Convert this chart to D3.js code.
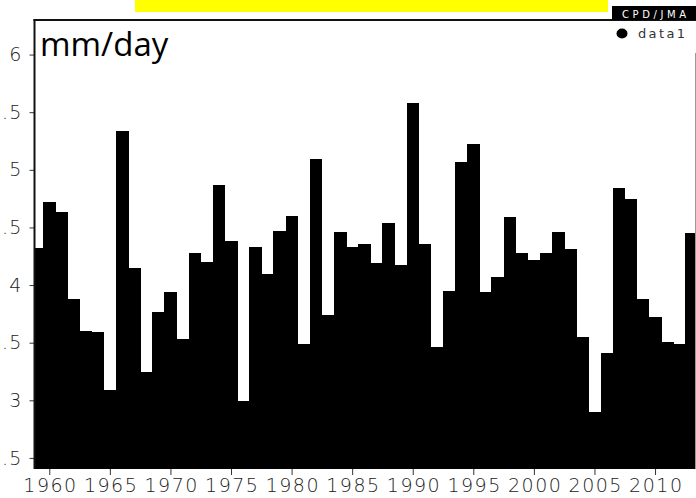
<!DOCTYPE html>
<html>
<head>
<meta charset="utf-8">
<script src="https://cdn.jsdelivr.net/npm/d3@7"></script>
<style>
  html, body { margin: 0; padding: 0; background: #fff; overflow: hidden; }
  svg { display: block; }
</style>
</head>
<body>
<script>
// Annual precipitation, one bar per year (mm/day)
const years = d3.range(1959, 2014);
const values = [
  4.32, 4.72, 4.63, 3.88, 3.60, 3.59, 3.09, 5.34, 4.15, 3.25,
  3.77, 3.94, 3.53, 4.28, 4.20, 4.87, 4.38, 2.99, 4.33, 4.10,
  4.47, 4.60, 3.49, 5.09, 3.74, 4.46, 4.33, 4.36, 4.19, 4.54,
  4.17, 5.58, 4.36, 3.46, 3.95, 5.07, 5.22, 3.94, 4.07, 4.59,
  4.28, 4.22, 4.28, 4.46, 4.31, 3.55, 2.90, 3.41, 4.84, 4.75,
  3.88, 3.72, 3.51, 3.49, 4.45
];
const yTicks = [2.5, 3, 3.5, 4, 4.5, 5, 5.5, 6];
const xTicks = [1960, 1965, 1970, 1975, 1980, 1985, 1990, 1995, 2000, 2005, 2010];
const seriesName = "data1";
const unitLabel = "mm/day";
const sourceLabel = "CPD/JMA";

const W = 696, H = 498;
const plot = { left: 34.5, right: 695.5, top: 20, bottom: 469 };

const svg = d3.select("body").append("svg")
  .attr("width", W).attr("height", H);

const x = d3.scaleLinear().domain([1958.78, 2013.34]).range([plot.left, plot.right]);
const y = d3.scaleLinear().domain([2.404, 6.3]).range([plot.bottom, plot.top]);

svg.append("defs").append("clipPath").attr("id", "plotClip")
  .append("rect")
  .attr("x", plot.left).attr("y", plot.top)
  .attr("width", plot.right - plot.left).attr("height", plot.bottom - plot.top);

// bars
svg.append("g").attr("clip-path", "url(#plotClip)")
  .attr("shape-rendering", "crispEdges")
  .selectAll("rect")
  .data(years.map((yr, i) => ({ yr, v: values[i] })))
  .join("rect")
  .attr("x", d => x(d.yr - 0.5))
  .attr("width", d => x(d.yr + 0.5) - x(d.yr - 0.5) + 0.5)
  .attr("y", d => y(d.v))
  .attr("height", d => plot.bottom + 2 - y(d.v))
  .attr("fill", "#000");

// axes
const tickFont = "'DejaVu Sans', sans-serif";
const yAxis = svg.append("g")
  .attr("transform", `translate(${plot.left},0)`)
  .call(d3.axisLeft(y).tickValues(yTicks).tickSize(5).tickPadding(8)
    .tickFormat(d => d3.format("")(d)));
yAxis.select(".domain").remove();
yAxis.selectAll("line").attr("stroke", "#333");
yAxis.selectAll("text")
  .attr("font-family", tickFont).attr("font-size", 19).attr("font-weight", 200)
  .attr("letter-spacing", 1.2).attr("dx", 1)
  .attr("fill", "#222");

const xAxis = svg.append("g")
  .attr("transform", `translate(0,${plot.bottom})`)
  .call(d3.axisBottom(x).tickValues(xTicks).tickSize(6).tickPadding(4)
    .tickFormat(d3.format("d")));
xAxis.select(".domain").remove();
xAxis.selectAll("line").attr("stroke", "#333");
xAxis.selectAll("text")
  .attr("font-family", tickFont).attr("font-size", 19).attr("font-weight", 200)
  .attr("letter-spacing", 1.5).attr("dx", 0.75)
  .attr("fill", "#222");

// frame
svg.append("line")
  .attr("x1", plot.left).attr("x2", plot.left)
  .attr("y1", plot.top - 1).attr("y2", plot.bottom)
  .attr("stroke", "#111").attr("stroke-width", 2);
svg.append("line")
  .attr("x1", plot.left - 1).attr("x2", W)
  .attr("y1", plot.top).attr("y2", plot.top)
  .attr("stroke", "#111").attr("stroke-width", 2);
svg.append("line")
  .attr("x1", plot.right).attr("x2", plot.right)
  .attr("y1", 53).attr("y2", plot.bottom)
  .attr("stroke", "#999").attr("stroke-width", 1);

// highlight strip above the plot
svg.append("rect")
  .attr("x", 135).attr("y", 0).attr("width", 473).attr("height", 12)
  .attr("fill", "#ffff00");

// source tag
svg.append("rect")
  .attr("x", 612).attr("y", 6).attr("width", W - 612).attr("height", 14)
  .attr("fill", "#000");
svg.append("text")
  .attr("x", 654).attr("y", 17.5)
  .attr("text-anchor", "middle")
  .attr("font-family", tickFont).attr("font-size", 10)
  .attr("textLength", 64).attr("lengthAdjust", "spacing")
  .attr("fill", "#fff")
  .text(sourceLabel);

// legend
svg.append("ellipse")
  .attr("cx", 622).attr("cy", 33.5).attr("rx", 5.5).attr("ry", 5)
  .attr("fill", "#000");
svg.append("text")
  .attr("x", 638).attr("y", 37.5)
  .attr("font-family", tickFont).attr("font-size", 13)
  .attr("textLength", 47).attr("lengthAdjust", "spacing")
  .attr("fill", "#333")
  .text(seriesName);

// unit label
svg.append("text")
  .attr("x", 40).attr("y", 56)
  .attr("font-family", "'Open Sans', sans-serif").attr("font-size", 33)
  .attr("fill", "#000")
  .text(unitLabel);
</script>
</body>
</html>
